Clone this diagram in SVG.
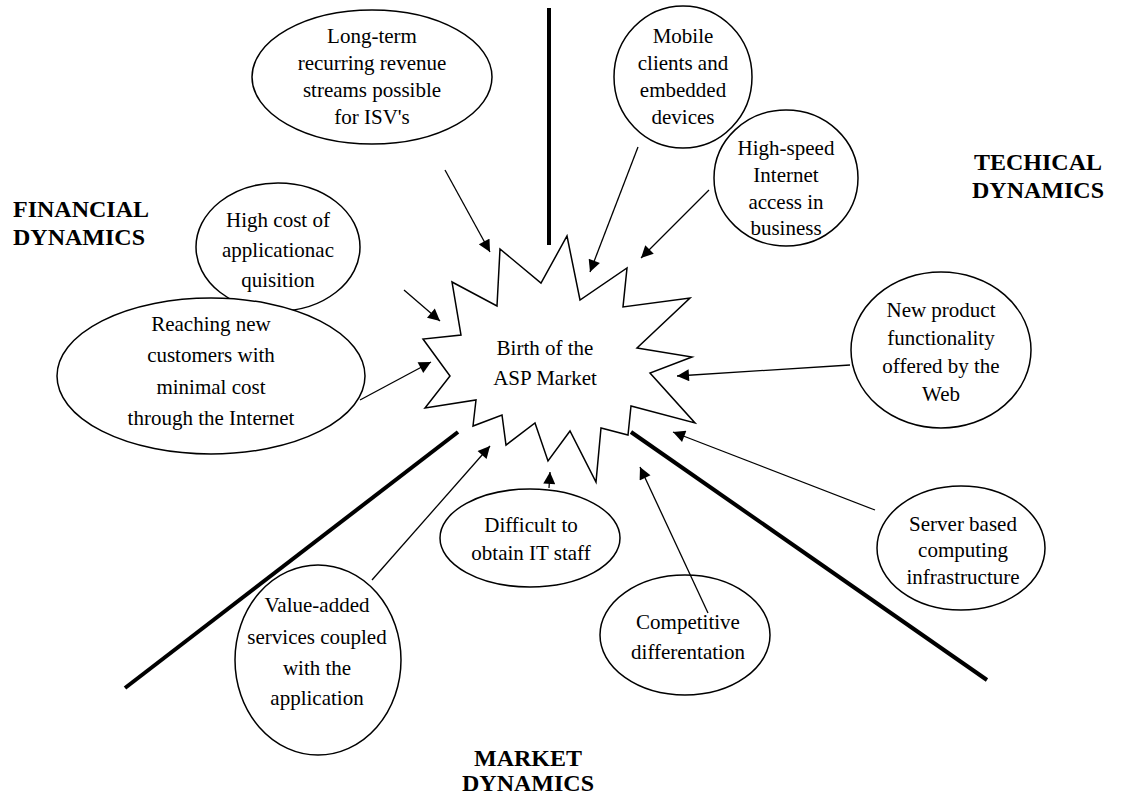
<svg xmlns="http://www.w3.org/2000/svg" width="1128" height="795" viewBox="0 0 1128 795">
<defs>
<style>
.n ellipse{fill:#fff;stroke:#000;stroke-width:1.5}
.t{font-family:"Liberation Serif","Times New Roman",serif;font-size:21px;fill:#000;text-anchor:middle}
.h{font-family:"Liberation Serif","Times New Roman",serif;font-size:24px;font-weight:bold;fill:#000}
.c line{stroke:#000;stroke-width:1.3;marker-end:url(#ah)}
.d line{stroke:#000;stroke-width:4}
</style>
<marker id="ah" viewBox="0 0 10 10" refX="10" refY="5" markerWidth="13" markerHeight="12" markerUnits="userSpaceOnUse" orient="auto">
<path d="M0,0 L10,5 L0,10 z" fill="#000"/>
</marker>
</defs>
<rect width="1128" height="795" fill="#fff"/>
<g class="d">
<line x1="549" y1="8" x2="549" y2="245"/>
<line x1="458" y1="432" x2="125" y2="688"/>
<line x1="631" y1="432" x2="987" y2="680"/>
</g>
<g id="center">
<polygon points="567,236 580,300 627,268 623,307 690,298 637,348 692,357 650,373 695,423 631,406 628,435 601,428 596,482 570,431 548,461 535,423 506,445 502,415 473,426 476,400 425,408 450,376 423,339 461,335 452,282 497,306 500,249 541,283" fill="#fff" stroke="#000" stroke-width="1.5"/>
<text class="t" x="545" y="355">Birth of the</text>
<text class="t" x="545" y="385">ASP Market</text>
</g>
<g id="n1" class="n"><ellipse cx="372" cy="77" rx="120" ry="67"/>
<text class="t" x="372" y="43">Long-term</text><text class="t" x="372" y="70">recurring revenue</text><text class="t" x="372" y="97">streams possible</text><text class="t" x="372" y="124">for ISV's</text></g>
<g id="n2" class="n"><ellipse cx="683" cy="77" rx="69" ry="71"/>
<text class="t" x="683" y="43">Mobile</text><text class="t" x="683" y="70">clients and</text><text class="t" x="683" y="97">embedded</text><text class="t" x="683" y="124">devices</text></g>
<g id="n3" class="n"><ellipse cx="786" cy="178" rx="72" ry="68"/>
<text class="t" x="786" y="155">High-speed</text><text class="t" x="786" y="182">Internet</text><text class="t" x="786" y="209">access in</text><text class="t" x="786" y="235">business</text></g>
<g id="n4" class="n"><ellipse cx="278" cy="247" rx="82" ry="64"/>
<text class="t" x="278" y="227">High cost of</text><text class="t" x="278" y="257">applicationac</text><text class="t" x="278" y="287">quisition</text></g>
<g id="n5" class="n"><ellipse cx="941" cy="350" rx="90" ry="78"/>
<text class="t" x="941" y="317">New product</text><text class="t" x="941" y="345">functionality</text><text class="t" x="941" y="373">offered by the</text><text class="t" x="941" y="401">Web</text></g>
<g id="n6" class="n"><ellipse cx="211" cy="376" rx="154" ry="78"/>
<text class="t" x="211" y="331">Reaching new</text><text class="t" x="211" y="362">customers with</text><text class="t" x="211" y="394">minimal cost</text><text class="t" x="211" y="425">through the Internet</text></g>
<g id="n7" class="n"><ellipse cx="961" cy="548" rx="84" ry="62"/>
<text class="t" x="963" y="531">Server based</text><text class="t" x="963" y="557">computing</text><text class="t" x="963" y="584">infrastructure</text></g>
<g id="n8" class="n"><ellipse cx="530" cy="538" rx="90" ry="49"/>
<text class="t" x="531" y="532">Difficult to</text><text class="t" x="531" y="560">obtain IT staff</text></g>
<g id="n9" class="n"><ellipse cx="685" cy="635" rx="85" ry="60"/>
<text class="t" x="688" y="629">Competitive</text><text class="t" x="688" y="659">differentation</text></g>
<g id="n10" class="n"><ellipse cx="318" cy="660" rx="83" ry="95"/>
<text class="t" x="317" y="612">Value-added</text><text class="t" x="317" y="644">services coupled</text><text class="t" x="317" y="675">with the</text><text class="t" x="317" y="705">application</text></g>
<g id="labels">
<text class="h" x="13" y="217">FINANCIAL</text><text class="h" x="13" y="245">DYNAMICS</text>
<text class="h" x="1038" y="170" text-anchor="middle">TECHICAL</text><text class="h" x="1038" y="198" text-anchor="middle">DYNAMICS</text>
<text class="h" x="528" y="766" text-anchor="middle">MARKET</text><text class="h" x="528" y="791" text-anchor="middle">DYNAMICS</text>
</g>
<g class="c" id="connectors">
<line x1="445" y1="170" x2="490" y2="252"/>
<line x1="638" y1="147" x2="590" y2="272"/>
<line x1="709" y1="190" x2="641" y2="258"/>
<line x1="404" y1="290" x2="440" y2="321"/>
<line x1="360" y1="400" x2="431" y2="362"/>
<line x1="850" y1="365" x2="677" y2="376"/>
<line x1="875" y1="510" x2="673" y2="432"/>
<line x1="708" y1="613" x2="640" y2="467"/>
<line x1="549" y1="488" x2="550" y2="472"/>
<line x1="372" y1="580" x2="490" y2="446"/>
</g>
</svg>
